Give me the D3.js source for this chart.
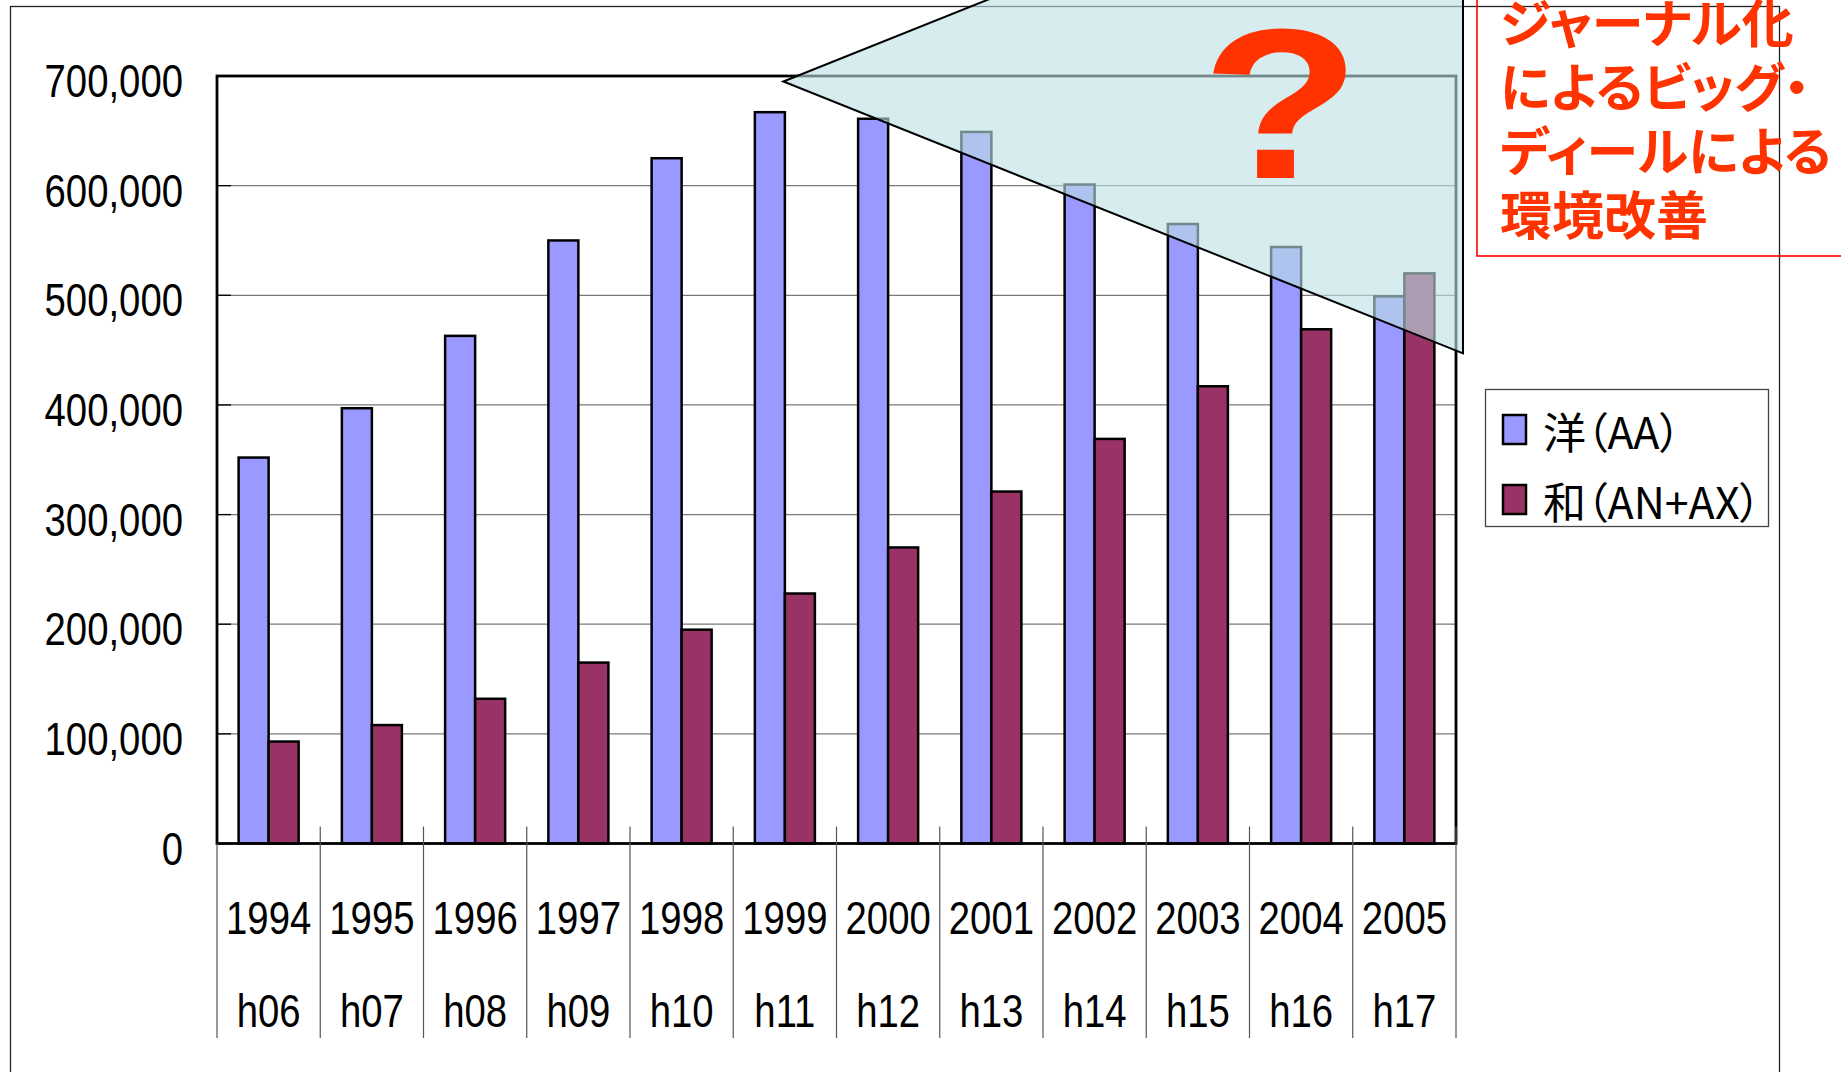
<!DOCTYPE html>
<html>
<head>
<meta charset="utf-8">
<script src="https://cdnjs.cloudflare.com/ajax/libs/d3/7.8.5/d3.min.js"></script>
<style>
  html, body { margin: 0; padding: 0; background: #fff; }
  svg { display: block; }
</style>
</head>
<body>
<svg id="chart" width="1841" height="1072"></svg>
<script>
// ---- data ----
const years = ["1994","1995","1996","1997","1998","1999","2000","2001","2002","2003","2004","2005"];
const heisei = ["h06","h07","h08","h09","h10","h11","h12","h13","h14","h15","h16","h17"];
const yoValues = [352000, 397000, 463000, 550000, 625000, 667000, 661000, 649000, 601000, 565000, 544000, 499000];
const waValues = [93000, 108000, 132000, 165000, 195000, 228000, 270000, 321000, 369000, 417000, 469000, 520000];
const seriesNames = ["洋（AA）", "和（AN+AX）"];
const seriesColors = ["#9999FF", "#993366"];
const yTicks = [0, 100000, 200000, 300000, 400000, 500000, 600000, 700000];
const calloutLines = ["ジャーナル化", "によるビッグ・", "ディールによる", "環境改善"];
const questionMark = "?";

// ---- layout ----
const svg = d3.select("#chart");
const W = 1841, H = 1072;
const plot = { left: 217, right: 1456, top: 76, bottom: 843.5 };
const narrow = 0.815; // horizontal condensing of numeric labels

svg.append("rect").attr("width", W).attr("height", H).attr("fill", "#fff");

// outer frame
svg.append("rect").attr("x", 10.5).attr("y", 6.5).attr("width", 1769).attr("height", 1100)
  .attr("fill", "none").attr("stroke", "#222").attr("stroke-width", 1.3);

const x = d3.scaleBand().domain(years).range([plot.left, plot.right]).paddingInner(0).paddingOuter(0);
const xs = d3.scaleBand().domain([0, 1]).range([0, x.bandwidth()]).paddingInner(0).paddingOuter(0.72);
const y = d3.scaleLinear().domain([0, 700000]).range([plot.bottom, plot.top]);

const fmt = d3.format(",");
const numFont = "'Liberation Sans', Arial, sans-serif";
const jpFont = "'Noto Sans CJK JP', 'Noto Sans', sans-serif";

// gridlines
svg.append("g").selectAll("line").data(yTicks.filter(d => d > 0 && d < 700000)).join("line")
  .attr("x1", plot.left).attr("x2", plot.right)
  .attr("y1", d => y(d)).attr("y2", d => y(d))
  .attr("stroke", "#7a7a7a").attr("stroke-width", 1.3);

// inward y ticks
svg.append("g").selectAll("line").data(yTicks).join("line")
  .attr("x1", plot.left).attr("x2", plot.left + 14)
  .attr("y1", d => y(d)).attr("y2", d => y(d))
  .attr("stroke", "#000").attr("stroke-width", 1.3);

// bars
const series = [yoValues, waValues];
series.forEach((vals, si) => {
  svg.append("g").selectAll("rect").data(vals).join("rect")
    .attr("x", (d, i) => x(years[i]) + xs(si))
    .attr("width", xs.bandwidth())
    .attr("y", d => y(d))
    .attr("height", d => y(0) - y(d))
    .attr("fill", seriesColors[si])
    .attr("stroke", "#000").attr("stroke-width", 2.5);
});

// plot border
svg.append("rect").attr("x", plot.left).attr("y", plot.top)
  .attr("width", plot.right - plot.left).attr("height", plot.bottom - plot.top)
  .attr("fill", "none").attr("stroke", "#000").attr("stroke-width", 2.8);

// category separators
const bounds = years.map(d => x(d)).concat([plot.right]);
svg.append("g").selectAll("line").data(bounds).join("line")
  .attr("x1", d => d).attr("x2", d => d)
  .attr("y1", (d, i) => i === 0 ? plot.bottom : plot.bottom - 17)
  .attr("y2", 1038)
  .attr("stroke", "#555").attr("stroke-width", 1.2);

// y labels
svg.append("g").selectAll("text").data(yTicks).join("text")
  .attr("transform", d => `translate(183,${y(d) + 21}) scale(${narrow},1)`)
  .attr("text-anchor", "end")
  .attr("font-family", numFont).attr("font-size", 47)
  .attr("fill", "#000")
  .text(d => fmt(d));

// x labels
svg.append("g").selectAll("text").data(years).join("text")
  .attr("transform", d => `translate(${x(d) + x.bandwidth() / 2},934) scale(${narrow},1)`)
  .attr("text-anchor", "middle")
  .attr("font-family", numFont).attr("font-size", 47).attr("fill", "#000")
  .text(d => d);
svg.append("g").selectAll("text").data(heisei).join("text")
  .attr("transform", (d, i) => `translate(${x(years[i]) + x.bandwidth() / 2},1027) scale(${narrow},1)`)
  .attr("text-anchor", "middle")
  .attr("font-family", numFont).attr("font-size", 47).attr("fill", "#000")
  .text(d => d);

// callout wedge (semi-transparent), anchored to scale positions
const apexX = x("1999") + x.bandwidth() / 2 - 1.5;
const apexY = y(695000);
const baseX = plot.right + 7;
const baseBottom = y(447000);
const baseTop = apexY - (baseBottom - apexY);
svg.append("path")
  .attr("d", d3.line()([[apexX, apexY], [baseX, baseTop], [baseX, baseBottom]]) + "Z")
  .attr("fill", "rgb(188,224,227)").attr("fill-opacity", 0.61)
  .attr("stroke", "#000").attr("stroke-width", 2);

// question mark
svg.append("text")
  .attr("transform", "translate(1281,178) scale(1.22,1)")
  .attr("text-anchor", "middle")
  .attr("font-family", "'Liberation Sans', Arial, sans-serif")
  .attr("font-weight", "bold").attr("font-size", 214)
  .attr("fill", "#FF3300")
  .text(questionMark);

// callout text box
svg.append("rect").attr("x", 1477).attr("y", -10).attr("width", 420).attr("height", 266)
  .attr("fill", "none").attr("stroke", "#FF0000").attr("stroke-width", 1.6);
svg.append("g").selectAll("text").data(calloutLines).join("text")
  .attr("x", 1500).attr("y", (d, i) => 43 + i * 64)
  .attr("font-family", jpFont).attr("font-weight", "bold").attr("font-size", 52)
  .style("font-feature-settings", "'palt' 1")
  .attr("fill", "#FF3300")
  .text(d => d);

// legend
const lg = svg.append("g");
lg.append("rect").attr("x", 1485.5).attr("y", 389.5).attr("width", 283).attr("height", 137)
  .attr("fill", "#fff").attr("stroke", "#444").attr("stroke-width", 1.3);
seriesNames.forEach((name, i) => {
  lg.append("rect").attr("x", 1503).attr("y", 415 + i * 70).attr("width", 23).attr("height", 29)
    .attr("fill", seriesColors[i]).attr("stroke", "#000").attr("stroke-width", 2.5);
  lg.append("text").attr("x", 1543).attr("y", 449 + i * 70)
    .attr("font-family", jpFont).attr("font-size", 43)
    .style("font-feature-settings", "'palt' 1")
    .attr("fill", "#000").text(name);
});
</script>
</body>
</html>
